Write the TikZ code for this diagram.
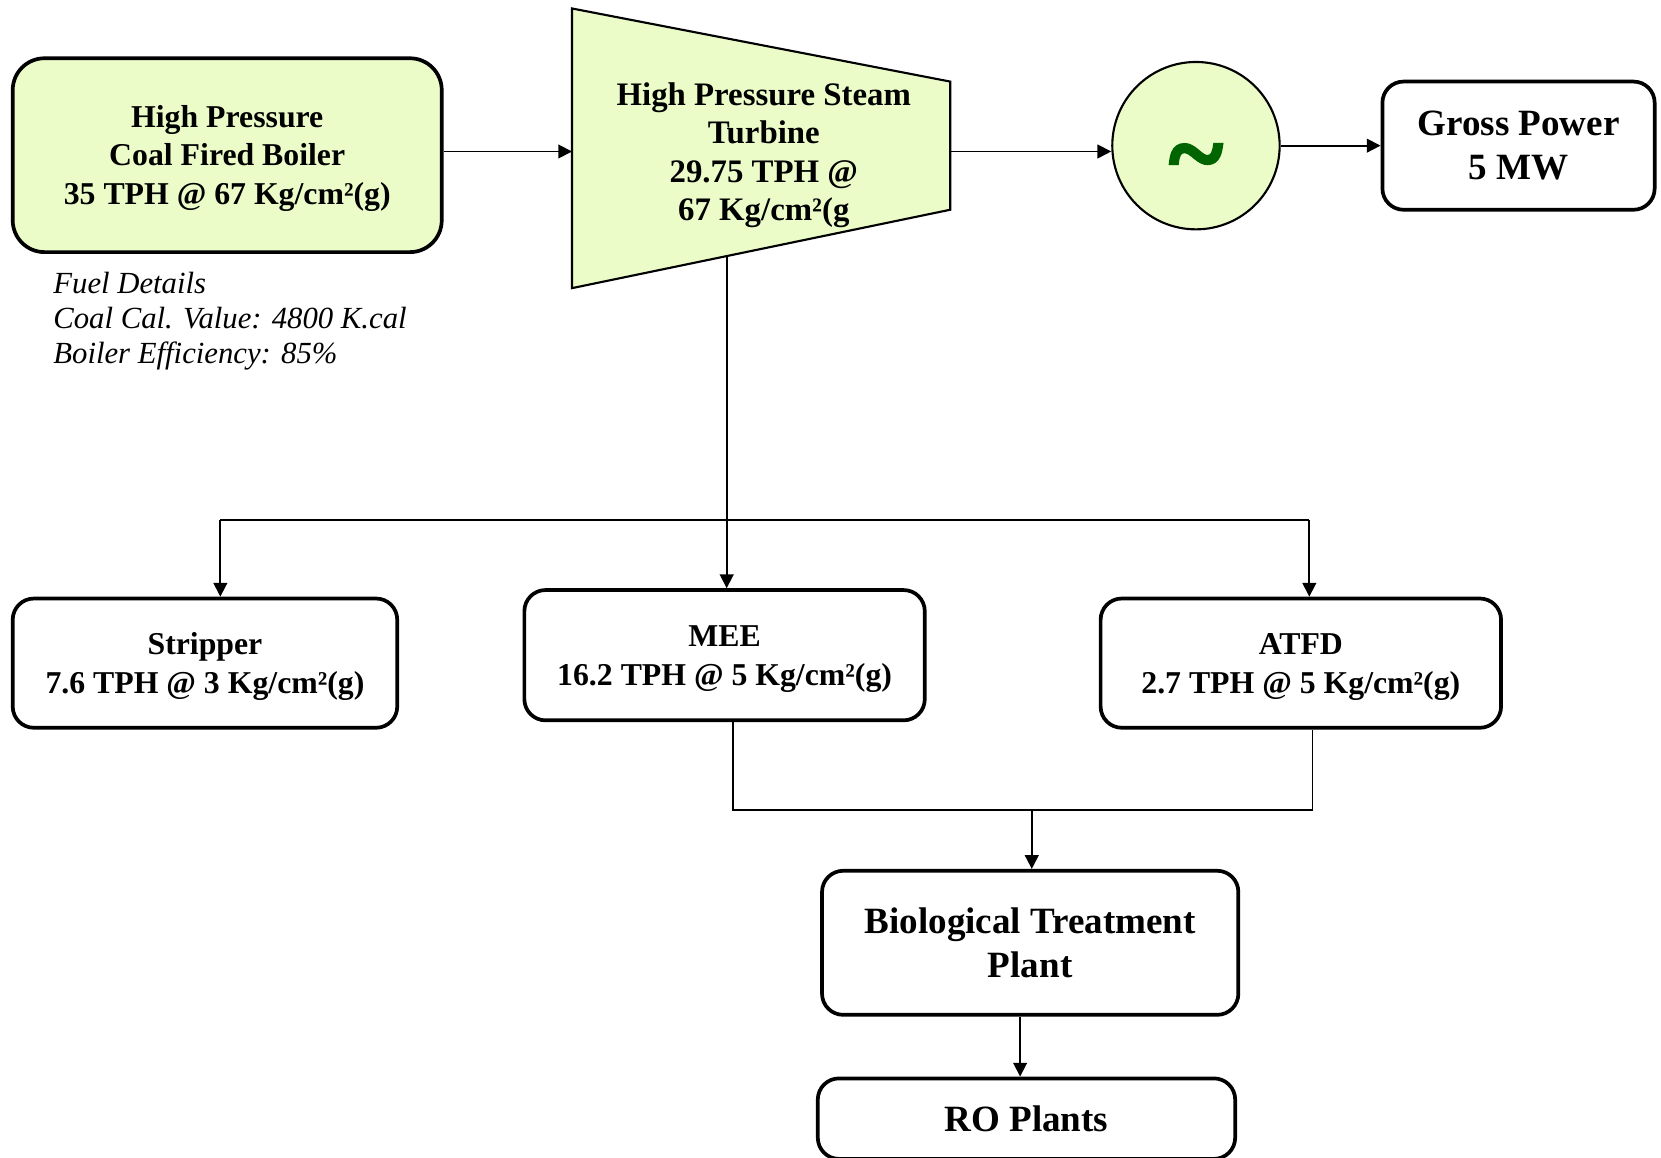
\documentclass[tikz,border=0pt]{standalone}
\usepackage{fontspec}
\setmainfont{Liberation Serif}
\newfontfamily\tildefont[FakeBold=3]{Liberation Serif}
\usetikzlibrary{arrows.meta,calc}
\definecolor{boxgreen}{RGB}{235,252,200}
\definecolor{tildegreen}{RGB}{0,100,0}
\newcommand\topstrut{\rule{0pt}{13.5pt}}
\tikzset{
 pbox/.style={draw, line width=1.75pt, rounded corners=10pt, align=center, inner sep=0pt, font=\bfseries\fontsize{15}{18.2}\selectfont},
 bigtext/.style={font=\bfseries\fontsize{17.5}{20.5}\selectfont},
 conn/.style={line width=0.85pt},
 arr/.style={conn, -{Triangle[length=6.5pt,width=6.5pt]}},
}
\begin{document}
\begin{tikzpicture}[x=0.5pt,y=-0.5pt]
\useasboundingbox (0,0) rectangle (1568,1093);
% boiler
\node[pbox, fill=boxgreen, rounded corners=15pt, minimum width=202.5pt, minimum height=91.5pt] (boiler) at (214.5,146.5) {\topstrut High Pressure\\Coal Fired Boiler\\35 TPH @ 67 Kg/cm²(g)};
\node[anchor=west, align=left, inner sep=0pt, font=\itshape\fontsize{14.5}{16.5}\selectfont] (fuel) at (50,303) {Fuel Details\\Coal Cal. Value: 4800 K.cal\\Boiler Efficiency: 85\%};
% turbine
\coordinate (t1) at (540,8);
\coordinate (t2) at (897,77);
\coordinate (t3) at (897,198);
\coordinate (t4) at (540,272);
\draw[fill=boxgreen, line width=1pt] (t1) -- (t2) -- (t3) -- (t4) -- cycle;
\node[align=center, inner sep=0pt, font=\bfseries\fontsize{15.5}{18.2}\selectfont] (turb) at (721,146.5) {High Pressure Steam\\Turbine\\29.75 TPH @\\ 67 Kg/cm²(g};
\coordinate (tin) at (540,143);
\coordinate (tout) at (897,143);
\coordinate (tbot) at (686,242);
% generator
\node[draw, circle, fill=boxgreen, line width=1pt, minimum size=79pt, inner sep=0pt] (gen) at (1129,137.5) {};
\node[anchor=base, text=tildegreen, inner sep=0pt, font=\tildefont\bfseries\fontsize{48}{48}\selectfont] (tilde) at (1129,177) {\char`\~};
% gross power
\node[pbox, bigtext, minimum width=128.5pt, minimum height=60.5pt] (gross) at (1433.5,137.5) {Gross Power\\5 MW};
% consumers
\node[pbox, minimum width=181.5pt, minimum height=61pt] (strip) at (193.5,626) {\topstrut Stripper\\7.6 TPH @ 3 Kg/cm²(g)};
\node[pbox, minimum width=189pt, minimum height=61.5pt] (mee) at (684,618.5) {\topstrut MEE\\16.2 TPH @ 5 Kg/cm²(g)};
\node[pbox, minimum width=189pt, minimum height=61pt] (atfd) at (1228,626) {\topstrut ATFD\\2.7 TPH @ 5 Kg/cm²(g)};
\node[pbox, bigtext, minimum width=196.5pt, minimum height=68pt] (bio) at (972.5,890) {Biological Treatment\\Plant};
\node[pbox, bigtext, minimum width=197pt, minimum height=38pt] (ro) at (969,1056) {RO Plants};
% connectors
\draw[arr] (boiler.east |- tin) -- (tin);
\draw[arr] (tout) -- (tout -| gen.west);
\draw[arr] (gen.east) -- (gross.west);
\coordinate (hl) at (208,491);
\coordinate (hr) at (1236,491);
\draw[arr] (tbot) -- (tbot |- mee.north);
\draw[conn] (hl) -- (hr);
\draw[arr] (hl) -- (hl |- strip.north);
\draw[arr] (hr) -- (hr |- atfd.north);
\coordinate (ml) at (692,765);
\coordinate (mr) at (1239,765);
\coordinate (mj) at (974,765);
\draw[conn] (ml |- mee.south) -- (ml) -- (mr) -- (mr |- atfd.south);
\draw[arr] (mj) -- (mj |- bio.north);
\coordinate (bj) at (963,958);
\draw[arr] (bj |- bio.south) -- (bj |- ro.north);
\end{tikzpicture}
\end{document}
